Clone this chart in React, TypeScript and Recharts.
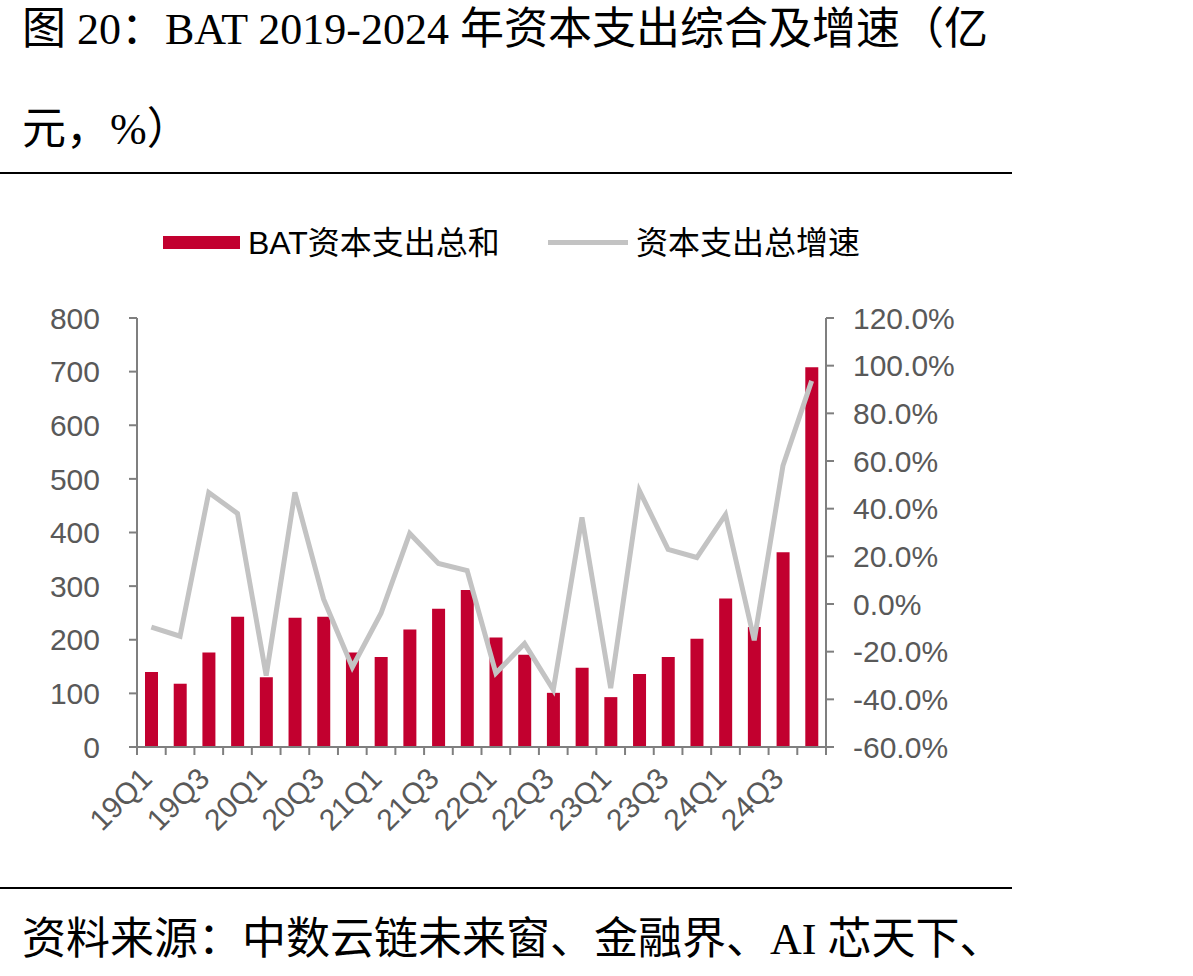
import {
  ComposedChart,
  Bar,
  Line,
  XAxis,
  YAxis,
} from "recharts";

const quarters = [
  "19Q1", "19Q2", "19Q3", "19Q4",
  "20Q1", "20Q2", "20Q3", "20Q4",
  "21Q1", "21Q2", "21Q3", "21Q4",
  "22Q1", "22Q2", "22Q3", "22Q4",
  "23Q1", "23Q2", "23Q3", "23Q4",
  "24Q1", "24Q2", "24Q3", "24Q4",
];

// BAT资本支出总和（亿元）
const capex = [
  140, 118, 176, 243,
  130, 241, 243, 176,
  168, 219, 258, 293,
  204, 172, 101, 148,
  93, 136, 168, 202,
  277, 224, 363, 708,
];

// 资本支出总增速（%）
const growth = [
  -9.7, -13.5, 46.8, 38.0,
  -30.0, 46.8, 2.0, -26.5,
  -3.9, 29.6, 17.0, 14.0,
  -29.0, -16.6, -36.0, 36.3,
  -35.3, 47.6, 22.9, 19.5,
  37.5, -15.2, 58.0, 93.6,
];

const leftTicks = [0, 100, 200, 300, 400, 500, 600, 700, 800];
const rightTicks = [-60, -40, -20, 0, 20, 40, 60, 80, 100, 120];

const data = quarters.map((q, i) => ({
  q,
  capex: capex[i],
  growth: growth[i],
}));

const AXIS = "#7f7f7f";
const TEXT = "#595959";
const BAR = "#c2002f";
const LINE = "#c3c3c3";
const SANS = "'Liberation Sans', Arial, 'Noto Sans CJK SC', sans-serif";
const SERIF = "'Liberation Serif', 'Times New Roman', 'Noto Sans CJK SC', serif";

const CHART_W = 1012;
const LEFT_W = 137;
const RIGHT_W = 186;
const BAND = (CHART_W - LEFT_W - RIGHT_W) / quarters.length;

const XTick = (props: any) => {
  const { x, y, payload, index } = props;
  const left = x - BAND / 2;
  const ax = x - 5;
  const ay = y + 18;
  return (
    <g>
      <line x1={left} y1={y - 8} x2={left} y2={y} stroke={AXIS} strokeWidth={2} />
      {index === quarters.length - 1 && (
        <line x1={x + BAND / 2} y1={y - 8} x2={x + BAND / 2} y2={y} stroke={AXIS} strokeWidth={2} />
      )}
      {index % 2 === 0 && (
        <text
          x={ax}
          y={ay}
          dy="0.35em"
          textAnchor="end"
          transform={`rotate(-45, ${ax}, ${ay})`}
          fill={TEXT}
          fontSize={30}
          fontFamily={SANS}
        >
          {payload.value}
        </text>
      )}
    </g>
  );
};

const LegendBox = () => (
  <div
    style={{
      position: "relative",
      height: 40,
      width: 1012,
      fontFamily: SANS,
      fontSize: 32,
      color: "#000",
      whiteSpace: "nowrap",
    }}
  >
    <div style={{ position: "absolute", left: 163, top: 13, width: 77, height: 13, background: BAR }} />
    <span style={{ position: "absolute", left: 248, top: 0, lineHeight: "40px" }}>BAT资本支出总和</span>
    <div style={{ position: "absolute", left: 548, top: 17, width: 80, height: 5, background: LINE }} />
    <span style={{ position: "absolute", left: 636, top: 0, lineHeight: "40px" }}>资本支出总增速</span>
  </div>
);

export default function App() {
  return (
    <div
      style={{
        position: "absolute",
        left: 0,
        top: 0,
        width: 1193,
        height: 976,
        background: "#fff",
        overflow: "hidden",
      }}
    >
      <div
        style={{
          position: "absolute",
          left: 22,
          top: -20,
          fontFamily: SERIF,
          fontSize: 44,
          lineHeight: "100px",
          color: "#000",
          whiteSpace: "nowrap",
        }}
      >
        图 20：BAT 2019-2024 年资本支出综合及增速（亿
        <br />
        元，%）
      </div>
      <div style={{ position: "absolute", left: 0, top: 172, width: 1012, height: 2, background: "#000" }} />

      <div style={{ position: "absolute", left: 0, top: 223 }}>
        <LegendBox />
      </div>

      <div style={{ position: "absolute", left: 0, top: 300 }}>
        <ComposedChart
          width={CHART_W}
          height={560}
          data={data}
          margin={{ top: 18, right: 0, left: 0, bottom: 13 }}
          barSize={13}
        >
          <XAxis
            dataKey="q"
            interval={0}
            height={100}
            stroke={AXIS}
            strokeWidth={2}
            tickLine={false}
            tick={<XTick />}
          />
          <YAxis
            yAxisId="left"
            domain={[0, 800]}
            ticks={leftTicks}
            width={LEFT_W}
            stroke={AXIS}
            strokeWidth={2}
            tickSize={8}
            tickMargin={29}
            tick={{ fill: TEXT, fontSize: 30, fontFamily: SANS }}
          />
          <YAxis
            yAxisId="right"
            orientation="right"
            domain={[-60, 120]}
            ticks={rightTicks}
            width={RIGHT_W}
            stroke={AXIS}
            strokeWidth={2}
            tickSize={8}
            tickMargin={19}
            tickFormatter={(v: number) => `${v.toFixed(1)}%`}
            tick={{ fill: TEXT, fontSize: 30, fontFamily: SANS, textAnchor: "start" }}
          />
          <Bar yAxisId="left" dataKey="capex" name="BAT资本支出总和" fill={BAR} isAnimationActive={false} />
          <Line
            yAxisId="right"
            type="linear"
            dataKey="growth"
            name="资本支出总增速"
            stroke={LINE}
            strokeWidth={5}
            dot={false}
            activeDot={false}
            isAnimationActive={false}
          />
        </ComposedChart>
      </div>

      <div style={{ position: "absolute", left: 0, top: 887, width: 1012, height: 2, background: "#000" }} />
      <div
        style={{
          position: "absolute",
          left: 22,
          top: 912,
          fontFamily: SERIF,
          fontSize: 44,
          lineHeight: "56px",
          color: "#000",
          whiteSpace: "nowrap",
        }}
      >
        资料来源：中数云链未来窗、金融界、AI 芯天下、
      </div>
    </div>
  );
}
